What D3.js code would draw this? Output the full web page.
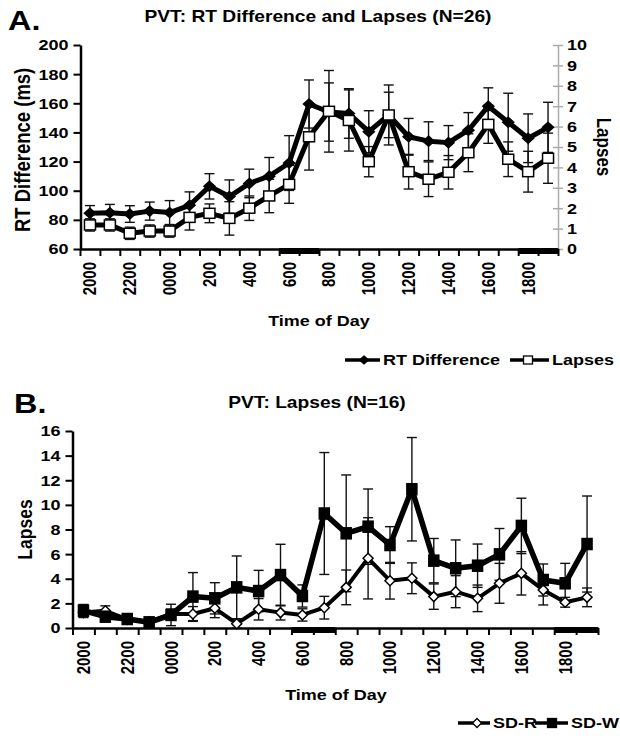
<!DOCTYPE html>
<html><head><meta charset="utf-8">
<script src="https://cdn.jsdelivr.net/npm/d3@7"></script>
<style>body{margin:0;background:#fff}svg{display:block}text{font-family:"Liberation Sans",Arial,sans-serif;fill:#000}</style>
</head><body><svg id="c" width="620" height="738"></svg>
<script>
// ---------- DATA ----------
const hours = ["2000","2100","2200","2300","0000","100","200","300","400","500","600","700","800","900","1000","1100","1200","1300","1400","1500","1600","1700","1800","1900"];
const tickLabels = ["2000","2200","0000","200","400","600","800","1000","1200","1400","1600","1800"];
const darkA = ["600","700","1800","1900"];
// Panel A
const rtDiff  = [84.5,84.9,84,86,85,90,103,96,105,110,119,159.5,154,153,140.5,152,137,134,133,141.5,158,147,136,143.5];
const rtErr   = [5.3,5.7,5.7,6.2,8.2,9.2,8.7,11.4,9.8,12.8,18.8,16.5,20,17,14.4,15.6,12.6,13.3,11.7,12.1,12.6,19.9,16.7,17.2];
const lapsesA = [1.18,1.18,0.77,0.88,0.88,1.55,1.75,1.5,2.0,2.6,3.17,5.5,6.75,6.3,4.28,6.57,3.79,3.42,3.76,4.72,6.11,4.4,3.79,4.45];
const lapsesAErr = [0.3,0.3,0.3,0.3,0.3,0.62,0.46,0.82,0.6,0.82,0.93,1.63,2.0,1.5,0.74,1.47,0.85,0.85,0.82,0.93,0.93,0.85,1.0,1.23];
const rtTicks = [60,80,100,120,140,160,180,200];
const lapseTicksA = [0,1,2,3,4,5,6,7,8,9,10];
// Panel B
const sdR    = [1.25,1.4,0.7,0.5,1.14,1.14,1.6,0.35,1.52,1.25,1.06,1.65,3.3,5.66,3.84,4.04,2.55,2.95,2.41,3.63,4.44,3.09,2.09,2.49];
const sdRErr = [0.4,0.4,0.2,0.2,0.4,0.6,0.76,0.4,0.87,0.6,0.5,0.92,1.41,3.3,1.49,1.25,1.03,1.3,1.08,1.62,1.76,1.22,0.4,0.76];
const sdW    = [1.41,0.92,0.73,0.46,1.06,2.55,2.41,3.3,3.0,4.3,2.6,9.3,7.69,8.23,6.74,11.27,5.47,4.85,5.06,5.98,8.29,3.9,3.63,6.82];
const sdWErr = [0.5,0.25,0.2,0.2,0.87,1.95,1.27,2.55,1.68,2.5,0.9,4.95,4.74,3.06,1.49,4.2,1.8,2.3,1.76,2.1,2.25,1.3,1.62,3.9];
const lapseTicksB = [0,2,4,6,8,10,12,14,16];

// ---------- HELPERS ----------
const SX = 1.2; // horizontal stretch of the original image
const svg = d3.select("#c");
function txt(g, x, y, s, o = {}) {
  return g.append("text")
    .attr("transform", `translate(${x},${y}) scale(${SX},1)` + (o.rot ? ` rotate(${o.rot})` : ""))
    .attr("text-anchor", o.anchor || "start")
    .attr("dy", o.dy || 0)
    .style("font-size", (o.size || 15) + "px")
    .style("font-weight", o.weight || "bold")
    .text(s);
}
function diamond(w, h) { return `M0,${-h}L${w},0L0,${h}L${-w},0Z`; }

function xAxis(g, x, y0, darkCats) {
  const idx = d3.scaleLinear().domain([0, hours.length]).range(x.range());
  g.selectAll(".dark").data(darkCats).join("rect")
    .attr("x", d => x(d)).attr("width", x.bandwidth())
    .attr("y", y0 - 1).attr("height", 6).attr("fill", "#000");
  const ax = g.append("g").attr("transform", `translate(0,${y0})`)
    .call(d3.axisBottom(idx).tickValues(d3.range(hours.length + 1)).tickFormat("").tickSize(7).tickSizeOuter(0));
  ax.select(".domain").attr("stroke-width", 2.5);
  ax.selectAll(".tick line").attr("stroke-width", 2);
  tickLabels.forEach(t => {
    txt(g, x(t) + x.bandwidth() / 2, y0 + 13, t, { rot: -90, anchor: "end", dy: "0.36em", size: 15 });
  });
}
function yAxisLeft(g, y, x0, ticks) {
  const ax = g.append("g").attr("transform", `translate(${x0},0)`)
    .call(d3.axisLeft(y).tickValues(ticks).tickSize(7).tickSizeOuter(0));
  ax.select(".domain").attr("stroke-width", 2.5);
  ax.selectAll(".tick line").attr("stroke-width", 2);
  ax.selectAll(".tick text").remove();
  ticks.forEach(t => txt(g, x0 - 12, y(t), t, { anchor: "end", dy: "0.36em", size: 15 }));
}
function errBars(g, x, y, vals, errs, capW) {
  const c = x.bandwidth() / 2;
  const gg = g.append("g").attr("stroke", "#111").attr("stroke-width", 1.4);
  vals.forEach((v, i) => {
    const cx = x(hours[i]) + c, y1 = y(v + errs[i]), y2 = y(Math.max(0, v - errs[i]));
    gg.append("line").attr("x1", cx).attr("x2", cx).attr("y1", y1).attr("y2", y2);
    gg.append("line").attr("x1", cx - capW / 2).attr("x2", cx + capW / 2).attr("y1", y1).attr("y2", y1);
    gg.append("line").attr("x1", cx - capW / 2).attr("x2", cx + capW / 2).attr("y1", y2).attr("y2", y2);
  });
}
function series(g, x, y, vals, lw, marker) {
  const c = x.bandwidth() / 2;
  g.append("path").datum(vals)
    .attr("d", d3.line().x((d, i) => x(hours[i]) + c).y(d => y(d)))
    .attr("fill", "none").attr("stroke", "#000").attr("stroke-width", lw).attr("stroke-linejoin", "round");
  const m = g.append("g");
  vals.forEach((v, i) => {
    const cx = x(hours[i]) + c, cy = y(v);
    if (marker.type === "diamond") {
      m.append("path").attr("d", diamond(marker.w, marker.h)).attr("transform", `translate(${cx},${cy})`)
        .attr("fill", marker.fill).attr("stroke", "#000").attr("stroke-width", 1.5);
    } else {
      m.append("rect").attr("x", cx - marker.w).attr("y", cy - marker.h).attr("width", 2 * marker.w).attr("height", 2 * marker.h)
        .attr("fill", marker.fill).attr("stroke", "#000").attr("stroke-width", 1.5);
    }
  });
}
function legendItem(g, x1, x2, mx, y, label, marker) {
  g.append("line").attr("x1", x1).attr("x2", x2).attr("y1", y).attr("y2", y).attr("stroke", "#000").attr("stroke-width", 3.5);
  if (marker.type === "diamond")
    g.append("path").attr("d", diamond(marker.w, marker.h)).attr("transform", `translate(${mx},${y})`)
      .attr("fill", marker.fill).attr("stroke", "#000").attr("stroke-width", 1.3);
  else
    g.append("rect").attr("x", mx - marker.w).attr("y", y - marker.h).attr("width", 2 * marker.w).attr("height", 2 * marker.h)
      .attr("fill", marker.fill).attr("stroke", "#000").attr("stroke-width", 1.3);
  txt(g, x2 + 3, y, label, { dy: "0.36em", size: 15 });
}

// ---------- PANEL A ----------
const gA = svg.append("g");
const xA = d3.scaleBand().domain(hours).range([80, 558]);
const yRT = d3.scaleLinear().domain([60, 200]).range([249, 45]);
const yLap = d3.scaleLinear().domain([0, 10]).range([249, 45]);

txt(gA, 8, 30, "A.", { size: 27 });
txt(gA, 318, 22, "PVT: RT Difference and Lapses (N=26)", { anchor: "middle", size: 16 });
yAxisLeft(gA, yRT, 80.5, rtTicks);
const axR = gA.append("g").attr("transform", "translate(558,0)")
  .call(d3.axisRight(yLap).tickValues(lapseTicksA).tickSize(5).tickSizeOuter(0));
axR.select(".domain").attr("stroke", "#aaa").attr("stroke-width", 1.5);
axR.selectAll(".tick line").attr("stroke", "#aaa").attr("stroke-width", 1.5).attr("x1", -5);
axR.selectAll(".tick text").remove();
lapseTicksA.forEach(t => txt(gA, 567, yLap(t), t, { dy: "0.36em", size: 15 }));
xAxis(gA, xA, 249, darkA);

txt(gA, 22, yRT(128), "RT Difference (ms)", { rot: -90, anchor: "middle", dy: "0.36em", size: 18.5 });
txt(gA, 604, yLap(5), "Lapses", { rot: 90, anchor: "middle", dy: "0.36em", size: 17 });
txt(gA, 319, 326, "Time of Day", { anchor: "middle", size: 15 });

errBars(gA, xA, yRT, rtDiff, rtErr, 10);
errBars(gA, xA, yLap, lapsesA, lapsesAErr, 10);
series(gA, xA, yRT, rtDiff, 5, { type: "diamond", w: 5.5, h: 5, fill: "#000" });
series(gA, xA, yLap, lapsesA, 5, { type: "square", w: 5.5, h: 5, fill: "#fff" });

legendItem(gA, 345, 380, 364, 360, "RT Difference", { type: "diamond", w: 4.5, h: 4, fill: "#000" });
legendItem(gA, 510, 549, 528, 360, "Lapses", { type: "square", w: 4.5, h: 4, fill: "#fff" });

// ---------- PANEL B ----------
const gB = svg.append("g");
const xB = d3.scaleBand().domain(hours).range([72.5, 598]);
const yB = d3.scaleLinear().domain([0, 16]).range([628, 431]);

txt(gB, 14, 413, "B.", { size: 27 });
txt(gB, 317, 408, "PVT: Lapses (N=16)", { anchor: "middle", size: 16 });
yAxisLeft(gB, yB, 72.5, lapseTicksB);
xAxis(gB, xB, 628, darkA);
txt(gB, 24, yB(8), "Lapses", { rot: -90, anchor: "middle", dy: "0.36em", size: 17.5 });
txt(gB, 336, 700, "Time of Day", { anchor: "middle", size: 15 });

errBars(gB, xB, yB, sdR, sdRErr, 10);
errBars(gB, xB, yB, sdW, sdWErr, 10);
series(gB, xB, yB, sdR, 4, { type: "diamond", w: 5, h: 5, fill: "#fff" });
series(gB, xB, yB, sdW, 5.5, { type: "square", w: 5, h: 5.5, fill: "#000" });

legendItem(gB, 458, 490, 477, 723, "SD-R", { type: "diamond", w: 4.5, h: 4.5, fill: "#fff" });
legendItem(gB, 535, 568, 552, 723, "SD-W", { type: "square", w: 4.5, h: 4.5, fill: "#000" });
</script></body></html>
